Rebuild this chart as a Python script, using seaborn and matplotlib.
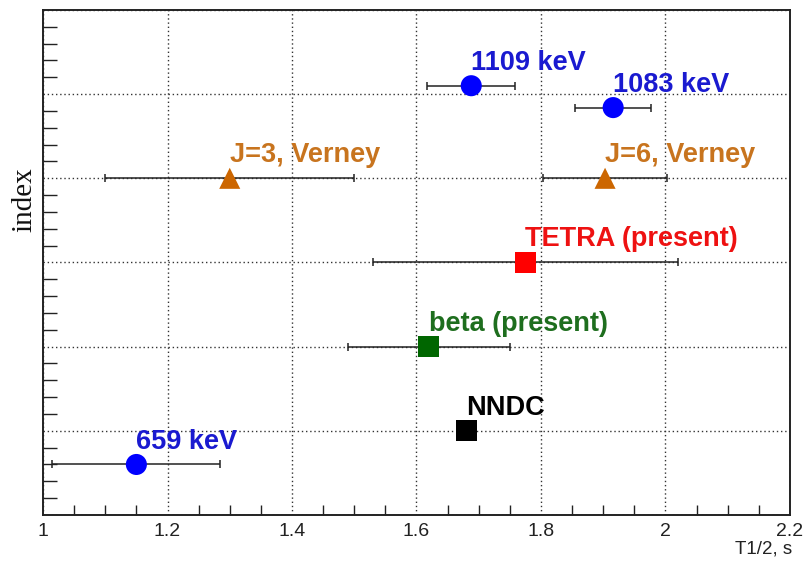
import matplotlib
matplotlib.use("Agg")
import matplotlib.pyplot as plt
import seaborn as sns
import pandas as pd
from matplotlib.ticker import MultipleLocator, NullFormatter

# half-life measurements (T1/2 in s) and their plotting index
labels = ["659 keV", "NNDC", "beta (present)", "TETRA (present)",
          "J=3, Verney", "J=6, Verney", "1083 keV", "1109 keV"]
t_half = [1.15, 1.68, 1.62, 1.775, 1.30, 1.903, 1.916, 1.688]
t_err = [0.135, 0.0, 0.13, 0.245, 0.20, 0.10, 0.061, 0.071]
index = [0.6, 1.0, 2.0, 3.0, 4.0, 4.0, 4.84, 5.1]

colors = {"659 keV": "#0000ff", "NNDC": "#000000", "beta (present)": "#006600",
          "TETRA (present)": "#ff0000", "J=3, Verney": "#cc6600",
          "J=6, Verney": "#cc6600", "1083 keV": "#0000ff", "1109 keV": "#0000ff"}
text_colors = {"659 keV": "#1a1ad0", "NNDC": "#000000", "beta (present)": "#1e6e1e",
               "TETRA (present)": "#ee1111", "J=3, Verney": "#c8741e",
               "J=6, Verney": "#c8741e", "1083 keV": "#1a1ad0", "1109 keV": "#1a1ad0"}
markers = {"659 keV": "o", "NNDC": "s", "beta (present)": "s", "TETRA (present)": "s",
           "J=3, Verney": "^", "J=6, Verney": "^", "1083 keV": "o", "1109 keV": "o"}

df = pd.DataFrame({"label": labels, "t": t_half, "err": t_err, "index": index})

sns.set_theme(style="white")
plt.rcParams["font.family"] = ["Liberation Sans", "DejaVu Sans"]

fig = plt.figure(figsize=(8.04, 5.63), dpi=100)
ax = fig.add_axes([0.0535, 0.0853, 0.929, 0.897])

ax.errorbar(df["t"], df["index"], xerr=df["err"], fmt="none", ecolor="#222222",
            elinewidth=1.1, capsize=3, capthick=1.1, zorder=2)
sns.scatterplot(data=df, x="t", y="index", hue="label", style="label",
                palette=colors, markers=markers, s=230, linewidth=0,
                legend=False, ax=ax, zorder=3)

for lab, x, y in zip(labels, t_half, index):
    ax.annotate(lab, (x, y), xytext=(0, 11.5), textcoords="offset points",
                ha="left", va="baseline", fontsize=19.5, fontweight="bold",
                color=text_colors[lab])

ax.set_xlim(1.0, 2.2)
ax.set_ylim(0, 6)
ax.xaxis.set_major_locator(MultipleLocator(0.2))
ax.xaxis.set_minor_locator(MultipleLocator(0.05))
ax.yaxis.set_major_locator(MultipleLocator(1))
ax.yaxis.set_minor_locator(MultipleLocator(0.2))
ax.yaxis.set_major_formatter(NullFormatter())
ax.set_xticks([1, 1.2, 1.4, 1.6, 1.8, 2, 2.2])
ax.set_xticklabels(["1", "1.2", "1.4", "1.6", "1.8", "2", "2.2"])
ax.tick_params(axis="both", which="both", direction="in", colors="#222222",
               labelcolor="#222222", labelsize=14)
ax.tick_params(axis="x", which="major", length=14, width=1.2, pad=6)
ax.tick_params(axis="x", which="minor", length=7, width=1.0, bottom=True)
ax.tick_params(axis="y", which="major", length=18, width=1.2)
ax.tick_params(axis="y", which="minor", length=10, width=1.0, left=True)

ax.grid(True, which="major", color="#333333", linestyle=(0, (1, 2)), linewidth=1.0)
for sp in ax.spines.values():
    sp.set_color("#222222")
    sp.set_linewidth(1.4)

ax.set_xlabel("")
ax.set_ylabel("")
fig.text(0.985, 0.01, "T1/2, s", ha="right", va="bottom", fontsize=13.5, color="#222222")
fig.text(0.03, 0.645, "index", ha="center", va="center", rotation=90,
         fontsize=21, family="Liberation Serif", color="#111111")

fig.savefig("out.png", dpi=100)
